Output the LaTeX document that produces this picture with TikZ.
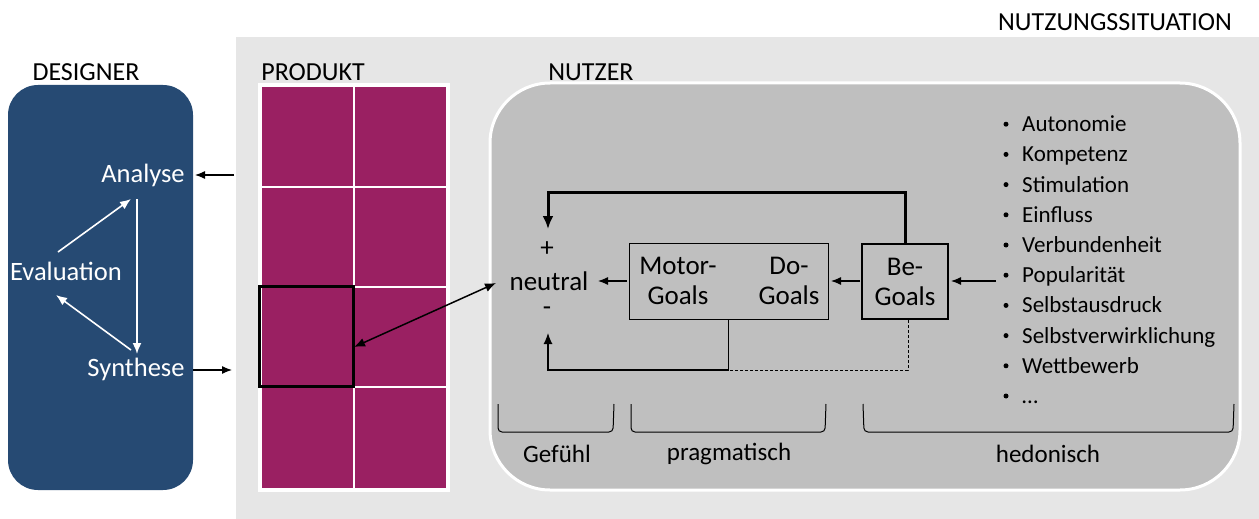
\documentclass[tikz,border=0pt]{standalone}
\usepackage{fontspec}
\setmainfont{Carlito}
\usetikzlibrary{arrows.meta}
\definecolor{desblue}{HTML}{264A73}
\definecolor{prodpurple}{HTML}{9A2062}
\definecolor{bglight}{HTML}{E6E6E6}
\definecolor{usergray}{HTML}{BFBFBF}
\tikzset{
  title/.style={font=\fontsize{26}{30}\selectfont, inner sep=0pt},
  wtext/.style={font=\fontsize{26.5}{30}\selectfont, text=white, inner sep=0pt},
  btext/.style={font=\fontsize{27}{30}\selectfont, inner sep=0pt, align=center},
  ltext/.style={font=\fontsize{23}{28}\selectfont, inner sep=0pt, anchor=base west},
  blabel/.style={font=\fontsize{25}{28}\selectfont, inner sep=0pt},
  bullet/.style={circle, fill=black, inner sep=0pt, minimum size=5pt},
  warrow/.style={draw=white, line width=1.6pt, -{Latex[length=11pt,width=9pt]}},
  barrow/.style={draw=black, line width=1.2pt, -{Latex[length=10pt,width=8pt]}},
  brace/.style={draw=black, line width=1pt, rounded corners=4pt},
}
\begin{document}
\begin{tikzpicture}[x=1pt,y=-1pt]
\useasboundingbox (0,0) rectangle (1259,519);
% background usage situation
\fill[bglight] (236,37) rectangle (1259,519);
\node[title] (tnutz) at (1115,22) {NUTZUNGSSITUATION};
% designer
\fill[desblue, rounded corners=30pt] (8,85) rectangle (193,490);
\node[title] (tdes) at (86,72) {DESIGNER};
\node[wtext] (ana) at (143,175) {Analyse};
\node[wtext] (eva) at (66,271) {Evaluation};
\node[wtext] (syn) at (136,369) {Synthese};
\coordinate (e1) at (58,252); \coordinate (a1) at (131,199);
\coordinate (a2) at (137,199); \coordinate (s2) at (137,354);
\coordinate (s3) at (131,350); \coordinate (e3) at (56,295);
\draw[warrow] (e1) -- (a1);
\draw[warrow] (a2) -- (s2);
\draw[warrow] (s3) -- (e3);
% product
\node[title] (tprod) at (313,72) {PRODUKT};
\fill[white] (258,83) rectangle (450,492);
\foreach \ya/\yb in {87/186,188/286,288/386,388/488}{
  \fill[prodpurple] (262,\ya) rectangle (353,\yb);
  \fill[prodpurple] (355,\ya) rectangle (446,\yb);
}
\node[draw=black, line width=3pt, minimum width=94pt, minimum height=100pt, inner sep=0pt] (sel) at (306,336) {};
\coordinate (pin) at (234,175);
\coordinate (ain) at (195,175);
\coordinate (sout) at (193,370);
\coordinate (pout) at (232,370);
\draw[barrow] (pin) -- (ain);
\draw[barrow] (sout) -- (pout);
% user
\fill[usergray, draw=white, line width=3pt, rounded corners=60pt] (490,83) rectangle (1240,490);
\node[title] (tnutzer) at (591,72) {NUTZER};
\coordinate (uin) at (496,283);
\coordinate (sin) at (354,347);
\draw[line width=1.5pt, {Latex[length=11pt,width=9pt]}-{Latex[length=11pt,width=9pt]}] (sin) -- (uin);
% feeling
\node[btext] (plus) at (547,249) {+};
\node[btext] (neu) at (549,281) {neutral};
\node[btext] (minus) at (547,311) {-};
% goals
\node[draw=black, line width=1pt, minimum width=199pt, minimum height=76pt, inner sep=0pt] (md) at (728.5,281) {};
\node[btext] (motor) at (678,281) {Motor-\\Goals};
\node[btext] (do) at (789,281) {Do-\\Goals};
\node[draw=black, line width=2.8pt, minimum width=86pt, minimum height=75pt, inner sep=0pt, btext] (be) at (905,281.5) {Be-\\Goals};
\coordinate (mdw) at (627,281); \coordinate (neuin) at (598,281);
\coordinate (bew) at (860,281); \coordinate (mde) at (831,281);
\coordinate (lin) at (996,281); \coordinate (bee) at (951,281);
\draw[barrow] (mdw) -- (neuin);
\draw[barrow] (bew) -- (mde);
\draw[barrow] (lin) -- (bee);
\draw[line width=3pt, -{Latex[length=13pt,width=11pt]}] (be.north) -- (905,192) -- (548,192) -- (548,229);
\draw[line width=1.2pt, -{Latex[length=11pt,width=9pt]}] (md.south) -- (728.5,370) -- (548,370) -- (548,333);
\draw[line width=1pt, dash pattern=on 3pt off 2pt] (908,320) -- (908,370) -- (728.5,370);
% list
\foreach \t [count=\i] in {Autonomie,Kompetenz,Stimulation,Einfluss,Verbundenheit,Popularität,Selbstausdruck,Selbstverwirklichung,Wettbewerb}{
  \node[bullet] (b\i) at (1006,{94+30.2*\i}) {};
  \node[ltext] (l\i) at (1022,{101.5+30.2*\i}) {\t};
}
\node[bullet] (b10) at (1006,{94+30.2*10}) {};
\node[ltext] (l10) at (1022,{101.5+30.2*10}) {…};
% braces
\draw[brace] (498,404) -- (498,432) -- (613,432) -- (614,404);
\draw[brace] (631,404) -- (631,432) -- (825,432) -- (826,404);
\draw[brace] (863,404) -- (864,432) -- (1233,432) -- (1234,404);
\node[blabel] (gef) at (557,454) {Gefühl};
\node[blabel] (prag) at (729,454) {pragmatisch};
\node[blabel] (hed) at (1048,454) {hedonisch};
\end{tikzpicture}
\end{document}
